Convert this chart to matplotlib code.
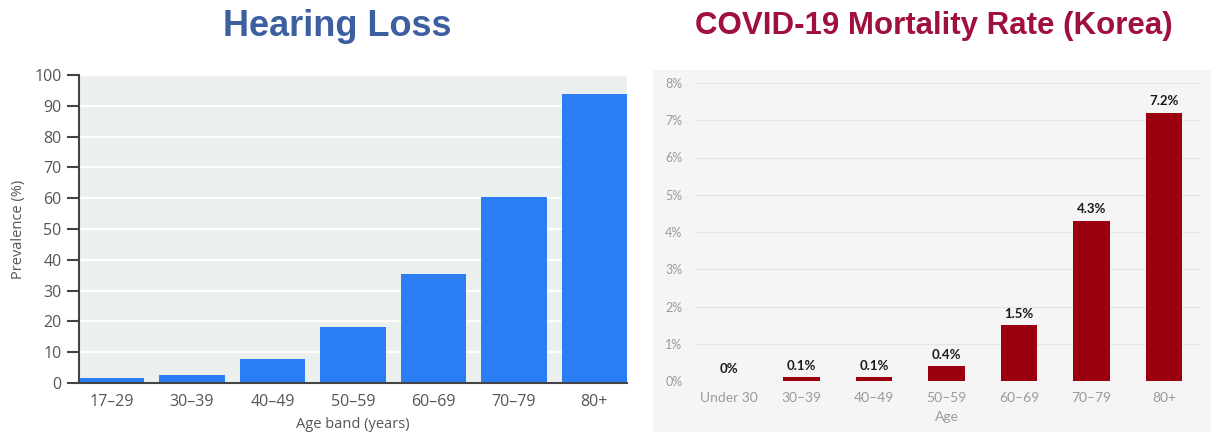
import numpy as np
import matplotlib.pyplot as plt
from matplotlib.patches import Rectangle

# hearing loss prevalence (%)
hl_bands = ["17–29", "30–39", "40–49", "50–59", "60–69", "70–79", "80+"]
hl_values = [1.6, 2.6, 7.9, 18.3, 35.5, 60.3, 93.8]

# covid-19 mortality rate in korea (%)
cv_bands = ["Under 30", "30–39", "40–49", "50–59", "60–69", "70–79", "80+"]
cv_values = [0.0, 0.1, 0.1, 0.4, 1.5, 4.3, 7.2]
cv_labels = ["0%", "0.1%", "0.1%", "0.4%", "1.5%", "4.3%", "7.2%"]

W, H = 1211, 432
fig = plt.figure(figsize=(W / 100, H / 100), dpi=100)

# ---- left: hearing loss ----
ax1 = fig.add_axes([79 / W, (H - 383) / H, (627 - 79) / W, (383 - 75) / H])
ax1.set_facecolor("#ebf0ef")
x1 = np.arange(len(hl_bands))
ax1.bar(x1, hl_values, width=0.81, color="#2a7df4", zorder=3)
ax1.set_xlim(-0.405, 6.405)
ax1.set_ylim(0, 100)
ax1.set_yticks(np.arange(0, 101, 10))
ax1.grid(axis="y", color="white", linewidth=1.6, zorder=1)
ax1.set_axisbelow(True)
for s in ["top", "right"]:
    ax1.spines[s].set_visible(False)
for s in ["left", "bottom"]:
    ax1.spines[s].set_color("#444444")
    ax1.spines[s].set_linewidth(1.5)
    ax1.spines[s].set_zorder(4)
ax1.set_xticks(x1)
ax1.set_xticklabels(hl_bands, fontfamily="Open Sans", fontsize=11.5, color="#555555")
ax1.tick_params(axis="x", length=0, pad=8)
ax1.tick_params(axis="y", length=8.5, width=1.5, color="#444444", pad=4,
                labelsize=11.5, labelcolor="#555555")
for t in ax1.get_yticklabels():
    t.set_fontfamily("Open Sans")
ax1.set_ylabel("Prevalence (%)", fontfamily="Open Sans", fontsize=10.5, color="#555555",
               va="center")
ax1.yaxis.set_label_coords(-0.111, 0.5)
ax1.set_xlabel("Age band (years)", fontfamily="Open Sans", fontsize=10.5, color="#555555",
               va="center")
ax1.xaxis.set_label_coords(0.5, -0.136)

fig.text(337 / W, 1 - 26 / H, "Hearing Loss", ha="center", va="center",
         fontfamily="Liberation Sans", fontweight="bold", fontsize=26, color="#3c5fa0")

# ---- right: covid mortality ----
bg = fig.add_axes([653 / W, 0, (W - 653) / W, (H - 70) / H], zorder=0)
bg.set_facecolor("#f5f5f5")
bg.set_xticks([])
bg.set_yticks([])
for s in bg.spines.values():
    s.set_visible(False)

ax2 = fig.add_axes([695 / W, (H - 381) / H, (1201 - 695) / W, (381 - 83) / H], zorder=2)
ax2.patch.set_alpha(0)
x2 = np.arange(len(cv_bands))
ax2.bar(x2, cv_values, width=0.5, color="#9b0010", zorder=3)
for xi, v, lab in zip(x2, cv_values, cv_labels):
    ax2.annotate(lab, (xi, v), xytext=(0, 4), textcoords="offset points",
                 ha="center", va="bottom", fontfamily="Lato", fontweight="bold",
                 fontsize=9.5, color="#1a1a1a")
ax2.set_xlim(-0.47, 6.51)
ax2.set_ylim(0, 8)
ax2.set_yticks(np.arange(0, 9, 1))
ax2.set_yticklabels([f"{i}%" for i in range(9)], fontfamily="Lato", fontsize=9, color="#9a9a9a")
ax2.grid(axis="y", color="#e6e6e6", linewidth=1, zorder=1)
ax2.set_axisbelow(True)
for s in ax2.spines.values():
    s.set_visible(False)
ax2.set_xticks(x2)
ax2.set_xticklabels(cv_bands, fontfamily="Lato", fontsize=10, color="#9a9a9a")
ax2.tick_params(axis="x", length=0, pad=8)
ax2.tick_params(axis="y", length=0, pad=9)
ax2.set_xlabel("Age", fontfamily="Lato", fontsize=10, color="#9a9a9a", va="center")
ax2.xaxis.set_label_coords(0.497, -0.121)

fig.text(934 / W, 1 - 26 / H, "COVID-19 Mortality Rate (Korea)", ha="center", va="center",
         fontfamily="Liberation Sans", fontweight="bold", fontsize=22.5, color="#a0103c")

fig.savefig("out.png", dpi=100)
